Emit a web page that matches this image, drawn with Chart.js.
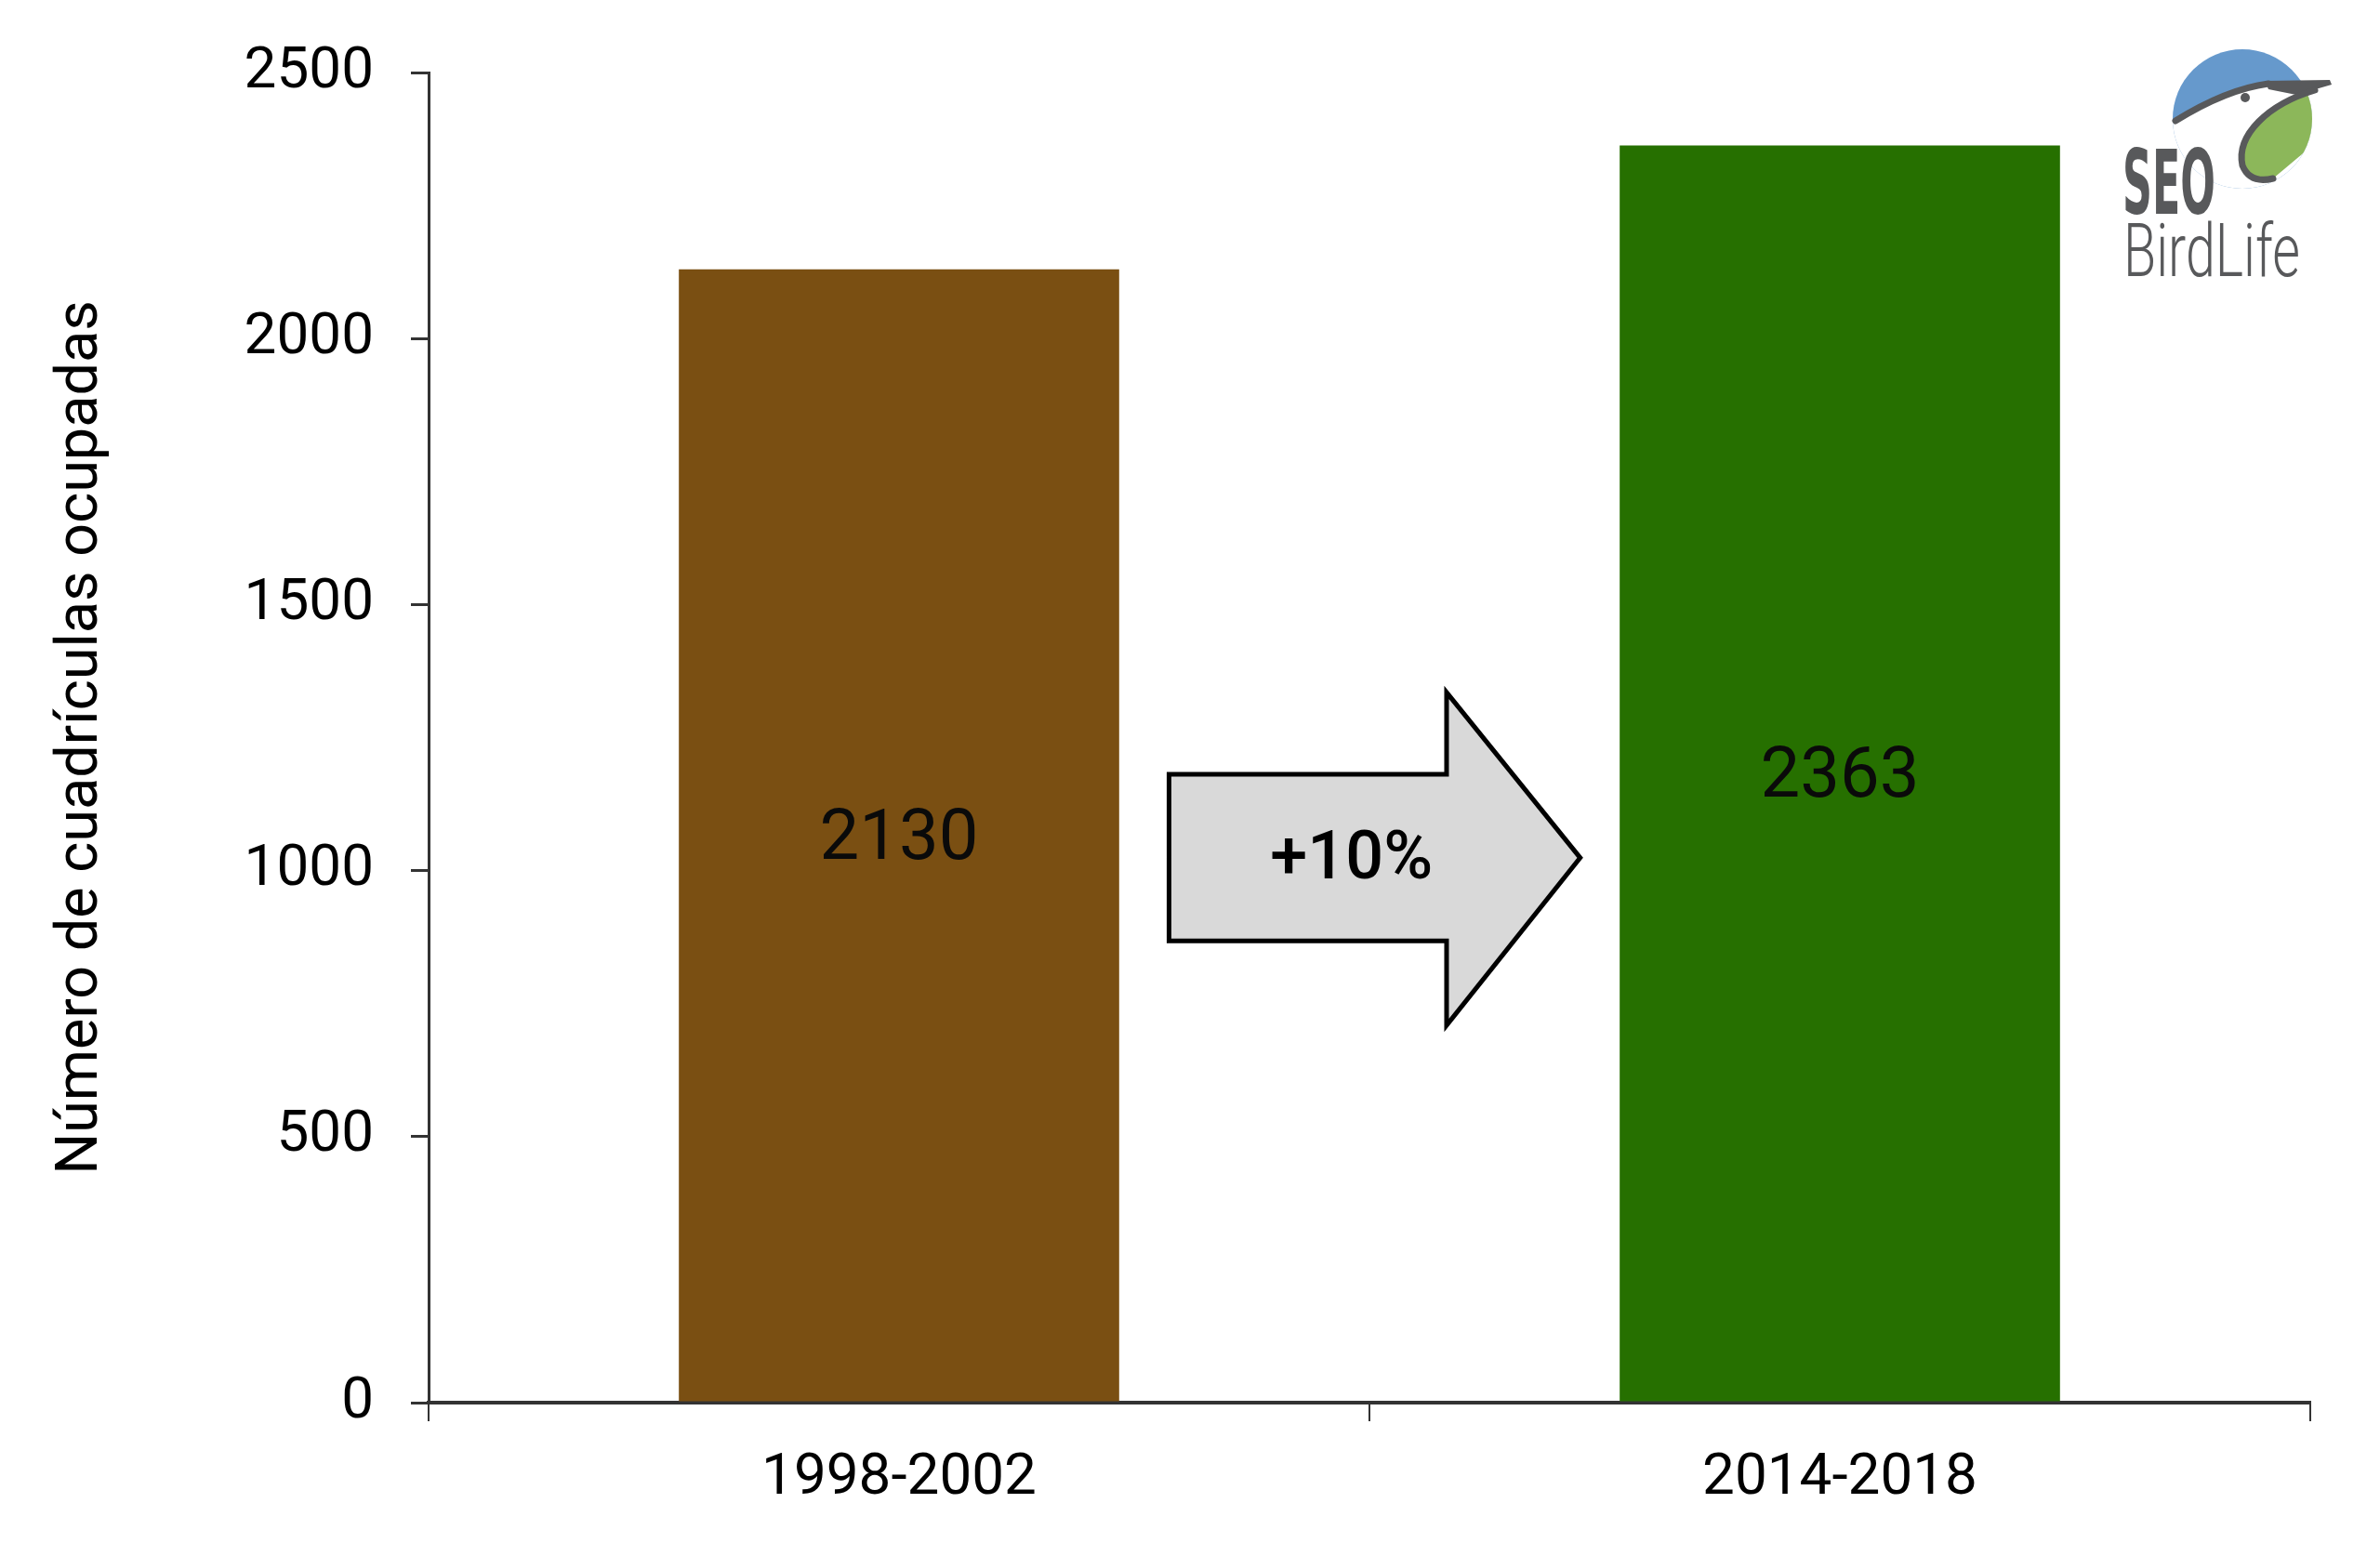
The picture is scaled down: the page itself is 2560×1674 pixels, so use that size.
<!DOCTYPE html>
<html>
<head>
<meta charset="utf-8">
<script src="https://cdn.jsdelivr.net/npm/chart.js@4.4.1/dist/chart.umd.min.js"></script>
<style>
  html, body { margin: 0; padding: 0; background: #fff; }
  #chart { display: block; }
</style>
</head>
<body>
<canvas id="chart" width="2560" height="1674"></canvas>
<script>
// datos
const periodos = ['1998-2002', '2014-2018'];
const cuadriculas = [2130, 2363];
const coloresBarras = ['#7a4f12', '#267000'];
const ticksY = [0, 500, 1000, 1500, 2000, 2500];
const tituloY = 'Número de cuadrículas ocupadas';
const cambio = '+10%';

const FONT = 'Roboto';

// etiquetas de valor dentro de las barras
const valueLabels = {
  id: 'valueLabels',
  afterDatasetsDraw(chart) {
    const ctx = chart.ctx;
    const meta = chart.getDatasetMeta(0);
    ctx.save();
    ctx.font = '400 76px ' + FONT;
    ctx.fillStyle = '#0a0a0a';
    ctx.textAlign = 'center';
    ctx.textBaseline = 'middle';
    meta.data.forEach((bar, i) => {
      ctx.fillText(String(cuadriculas[i]), bar.x, (bar.y + bar.base) / 2 + 6);
    });
    ctx.restore();
  }
};

// flecha gris con el porcentaje de cambio
const arrow = {
  id: 'arrow',
  afterDatasetsDraw(chart) {
    const { x, y } = chart.scales;
    const ctx = chart.ctx;
    const x0 = x.getPixelForValue(0);
    const step = x.getPixelForValue(1) - x0;
    const px = f => x0 + step * f;
    const left = px(0.287), neck = px(0.582), tip = px(0.724);
    const sTop = y.getPixelForValue(1181), sBot = y.getPixelForValue(868);
    const hTop = y.getPixelForValue(1335), hBot = y.getPixelForValue(709);
    const tipY = y.getPixelForValue(1024);
    ctx.save();
    ctx.beginPath();
    ctx.moveTo(left, sTop);
    ctx.lineTo(neck, sTop);
    ctx.lineTo(neck, hTop);
    ctx.lineTo(tip, tipY);
    ctx.lineTo(neck, hBot);
    ctx.lineTo(neck, sBot);
    ctx.lineTo(left, sBot);
    ctx.closePath();
    ctx.fillStyle = '#d9d9d9';
    ctx.fill();
    ctx.lineWidth = 5;
    ctx.lineJoin = 'miter';
    ctx.strokeStyle = '#000';
    ctx.stroke();
    ctx.font = '500 72px ' + FONT;
    ctx.fillStyle = '#000';
    ctx.textAlign = 'center';
    ctx.textBaseline = 'middle';
    ctx.fillText(cambio, px(0.481), y.getPixelForValue(1017));
    ctx.restore();
  }
};

// logotipo SEO BirdLife
const logo = {
  id: 'logo',
  afterDraw(chart) {
    const ctx = chart.ctx;
    const cx = 2412, cy = 128, r = 75;
    ctx.save();
    ctx.beginPath();
    ctx.arc(cx, cy, r, 0, Math.PI * 2);
    ctx.clip();
    ctx.fillStyle = '#6699cc';
    ctx.fillRect(cx - r, cy - r, 2 * r, 2 * r);
    // zona blanca bajo la cabeza
    ctx.beginPath();
    ctx.moveTo(cx - r - 5, 132);
    ctx.quadraticCurveTo(2395, 98, 2440, 90);
    ctx.lineTo(2505, 88);
    ctx.lineTo(2505, 220);
    ctx.lineTo(cx - r - 5, 220);
    ctx.closePath();
    ctx.fillStyle = '#fff';
    ctx.fill();
    // hoja verde
    ctx.beginPath();
    ctx.moveTo(2490, 98);
    ctx.bezierCurveTo(2440, 112, 2405, 145, 2412, 178);
    ctx.quadraticCurveTo(2420, 198, 2445, 192);
    ctx.lineTo(2495, 150);
    ctx.closePath();
    ctx.fillStyle = '#8cb75a';
    ctx.fill();
    ctx.restore();

    // trazo oscuro del pájaro
    ctx.save();
    ctx.strokeStyle = '#58595b';
    ctx.fillStyle = '#58595b';
    ctx.lineWidth = 7;
    ctx.lineCap = 'round';
    ctx.lineJoin = 'round';
    ctx.beginPath();
    ctx.moveTo(2340, 130);
    ctx.quadraticCurveTo(2395, 96, 2440, 90);
    ctx.stroke();
    ctx.beginPath();
    ctx.moveTo(2436, 87);
    ctx.lineTo(2506, 86);
    ctx.lineTo(2508, 91);
    ctx.lineTo(2470, 102);
    ctx.lineTo(2440, 96);
    ctx.closePath();
    ctx.fill();
    ctx.beginPath();
    ctx.moveTo(2490, 97);
    ctx.bezierCurveTo(2440, 112, 2405, 145, 2412, 178);
    ctx.quadraticCurveTo(2420, 198, 2445, 192);
    ctx.stroke();
    ctx.beginPath();
    ctx.arc(2415, 105, 5, 0, Math.PI * 2);
    ctx.fill();

    // textos
    const drawFit = (txt, font, x, base, w) => {
      ctx.font = font;
      const m = ctx.measureText(txt).width;
      ctx.save();
      ctx.translate(x, base);
      ctx.scale(w / m, 1);
      ctx.textAlign = 'left';
      ctx.textBaseline = 'alphabetic';
      ctx.fillText(txt, 0, 0);
      ctx.restore();
    };
    drawFit('SEO', '700 96px "DejaVu Sans"', 2283, 230, 100);
    drawFit('BirdLife', '300 80px ' + FONT, 2284, 297, 190);
    ctx.restore();
  }
};

new Chart(document.getElementById('chart'), {
  type: 'bar',
  data: {
    labels: periodos,
    datasets: [{
      data: cuadriculas,
      backgroundColor: coloresBarras,
      borderWidth: 0,
      barPercentage: 0.468,
      categoryPercentage: 1
    }]
  },
  options: {
    responsive: false,
    devicePixelRatio: 1,
    animation: false,
    layout: { padding: { left: 0, right: 75, top: 78, bottom: 0 } },
    plugins: {
      legend: { display: false },
      tooltip: { enabled: false }
    },
    scales: {
      x: {
        offset: true,
        afterFit: s => { s.height = 165; s.paddingRight = 0; },
        grid: {
          offset: true,
          drawOnChartArea: false,
          drawTicks: true,
          tickLength: 20,
          color: '#333',
          lineWidth: 2
        },
        border: { display: true, color: '#333', width: 4 },
        ticks: {
          color: '#000',
          font: { family: FONT, size: 62 },
          padding: 25,
          maxRotation: 0
        }
      },
      y: {
        min: 0,
        max: 2500,
        afterFit: s => { s.width = 461; },
        afterBuildTicks: s => { s.ticks = ticksY.map(v => ({ value: v })); },
        grid: {
          drawOnChartArea: false,
          drawTicks: true,
          tickLength: 19,
          color: '#333',
          lineWidth: 3
        },
        border: { display: true, color: '#333', width: 3 },
        ticks: {
          color: '#000',
          font: { family: FONT, size: 62 },
          padding: 40,
          callback: v => String(v)
        },
        title: {
          display: true,
          text: tituloY,
          color: '#000',
          font: { family: FONT, size: 63 },
          padding: { top: 50, bottom: 0 }
        }
      }
    }
  },
  plugins: [valueLabels, arrow, logo]
});
</script>
</body>
</html>
